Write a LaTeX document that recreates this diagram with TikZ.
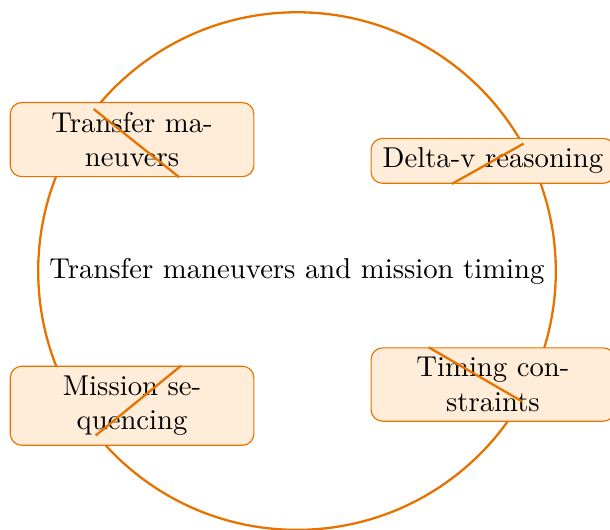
\documentclass[tikz,border=0pt]{standalone}
\usepackage{tikz}
\definecolor{hubline}{HTML}{E67300}
\definecolor{topicfill}{HTML}{FFEDD9}

\begin{document}
\begin{tikzpicture}[
  hub/.style={circle, draw=hubline, thick, minimum size=6.34cm},
  topic/.style={rectangle, rounded corners, draw=hubline, thin, fill=topicfill,
                text width=2.75cm, align=center},
  link/.style={thick, hubline},
]
\useasboundingbox (-3.638, -3.160) rectangle (3.834, 3.320);

\node[hub] (hub) at (0, 0) {Transfer maneuvers and mission timing};

\node[topic] (t1) at (-2.020, 1.610) {Transfer ma-\\neuvers};
\node[topic] (t2) at (2.400, 1.350) {Delta-v reasoning};
\node[topic] (t3) at (-2.020, -1.650) {Mission sequencing};
\node[topic] (t4) at (2.400, -1.390) {Timing constraints};

\draw[link] (hub) -- (t1);
\draw[link] (hub) -- (t2);
\draw[link] (hub) -- (t3);
\draw[link] (hub) -- (t4);

\end{tikzpicture}
\end{document}
